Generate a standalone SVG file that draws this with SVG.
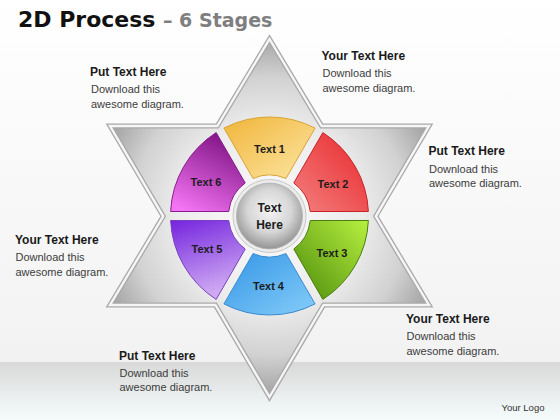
<svg xmlns="http://www.w3.org/2000/svg" width="560" height="420" viewBox="0 0 560 420">
  <style>
    .title { font-family: "DejaVu Sans", "Liberation Sans", sans-serif; font-weight: bold; }
    .head { font-family: "Liberation Sans", Arial, sans-serif; font-weight: bold; font-size: 12px; fill: #1a1a1a; }
    .body { font-family: "Liberation Sans", Arial, sans-serif; font-size: 11px; fill: #3c3c3c; }
    .seg { font-family: "Liberation Sans", Arial, sans-serif; font-weight: bold; font-size: 11px; fill: #1c1c1c; text-anchor: middle; }
    .ctr { font-family: "Liberation Sans", Arial, sans-serif; font-weight: bold; font-size: 12px; fill: #1c1c1c; text-anchor: middle; }
  </style>
  <defs>
    <linearGradient id="bgTop" x1="0" y1="0" x2="0" y2="1">
      <stop offset="0" stop-color="#ffffff"/>
      <stop offset="1" stop-color="#f2f2f2"/>
    </linearGradient>
    <linearGradient id="bgBand" x1="0" y1="0" x2="0" y2="1">
      <stop offset="0" stop-color="#d8d8d8"/>
      <stop offset="0.6" stop-color="#ebefef"/>
      <stop offset="1" stop-color="#f5fbfb"/>
    </linearGradient>
    <radialGradient id="starFill" gradientUnits="userSpaceOnUse" cx="269.5" cy="216" r="185">
      <stop offset="0" stop-color="#fbfbfb"/>
      <stop offset="0.5" stop-color="#ececec"/>
      <stop offset="0.75" stop-color="#d2d2d2"/>
      <stop offset="1" stop-color="#9c9c9c"/>
    </radialGradient>
    <radialGradient id="ball" cx="0.5" cy="0.42" r="0.6">
      <stop offset="0" stop-color="#f4f4f4"/>
      <stop offset="0.55" stop-color="#d6d6d6"/>
      <stop offset="1" stop-color="#8e8e8e"/>
    </radialGradient>
    <linearGradient id="g1" x1="0" y1="0" x2="1" y2="1">
      <stop offset="0" stop-color="#f0b53a"/>
      <stop offset="1" stop-color="#fde6a4"/>
    </linearGradient>
    <linearGradient id="g2" x1="1" y1="0" x2="0" y2="1">
      <stop offset="0" stop-color="#e8262a"/>
      <stop offset="1" stop-color="#f48080"/>
    </linearGradient>
    <linearGradient id="g3" x1="0" y1="1" x2="1" y2="0">
      <stop offset="0" stop-color="#4b8a0a"/>
      <stop offset="1" stop-color="#b8f040"/>
    </linearGradient>
    <linearGradient id="g4" x1="0" y1="0" x2="1" y2="1">
      <stop offset="0" stop-color="#3396e6"/>
      <stop offset="1" stop-color="#86cdf9"/>
    </linearGradient>
    <linearGradient id="g5" x1="0" y1="0" x2="0.3" y2="1">
      <stop offset="0" stop-color="#7424de"/>
      <stop offset="1" stop-color="#cfaaf2"/>
    </linearGradient>
    <linearGradient id="g6" x1="0.7" y1="0" x2="0.2" y2="1">
      <stop offset="0" stop-color="#7e1283"/>
      <stop offset="1" stop-color="#f475f4"/>
    </linearGradient>
  </defs>

  <!-- background -->
  <rect x="0" y="0" width="560" height="363" fill="url(#bgTop)"/>
  <rect x="0" y="362" width="560" height="58" fill="url(#bgBand)"/>

  <!-- title -->
  <text class="title" x="18" y="27" font-size="22" fill="#111111">2D Process</text>
  <text class="title" x="163" y="27" font-size="19" fill="#7f7f7f">– 6 Stages</text>

  <!-- star -->
  <g id="star">
    <path d="M269.5,39 L321.7,126 L429,126 L375.8,216.3 L429,305 L323.6,305 L269.5,397 L215.4,305 L110,305 L163.2,216.3 L110,126 L217.3,126 Z" fill="url(#starFill)" stroke="#a9a9a9" stroke-width="5" stroke-linejoin="miter"/>
    <path d="M269.5,39 L321.7,126 L429,126 L375.8,216.3 L429,305 L323.6,305 L269.5,397 L215.4,305 L110,305 L163.2,216.3 L110,126 L217.3,126 Z" fill="none" stroke="#f6f6f6" stroke-width="2.4" stroke-linejoin="miter"/>
  </g>

  <!-- wheel segments -->
  <g transform="translate(269.5,216)">
    <g id="stage1">
      <path d="M-45.56,-87.89 A99,99 0 0 1 45.56,-87.89 L16.48,-37.54 A41,41 0 0 0 -16.48,-37.54 Z" fill="url(#g1)" stroke="#d9a235" stroke-width="1"/>
      <text class="seg" x="0" y="-63.5">Text 1</text>
    </g>
    <g id="stage2">
      <path d="M53.33,-83.41 A99,99 0 0 1 98.89,-4.49 L40.75,-4.5 A41,41 0 0 0 24.27,-33.04 Z" fill="url(#g2)" stroke="#c62424" stroke-width="1"/>
      <text class="seg" x="63.5" y="-28">Text 2</text>
    </g>
    <g id="stage3">
      <path d="M98.89,4.49 A99,99 0 0 1 53.33,83.41 L24.27,33.04 A41,41 0 0 0 40.75,4.5 Z" fill="url(#g3)" stroke="#4a7d10" stroke-width="1"/>
      <text class="seg" x="62.5" y="40.5">Text 3</text>
    </g>
    <g id="stage4">
      <path d="M45.56,87.89 A99,99 0 0 1 -45.56,87.89 L-16.48,37.54 A41,41 0 0 0 16.48,37.54 Z" fill="url(#g4)" stroke="#3a8ad0" stroke-width="1"/>
      <text class="seg" x="-1" y="73.5" fill="#10224a">Text 4</text>
    </g>
    <g id="stage5">
      <path d="M-53.33,83.41 A99,99 0 0 1 -98.89,4.49 L-40.75,4.5 A41,41 0 0 0 -24.27,33.04 Z" fill="url(#g5)" stroke="#7a40c0" stroke-width="1"/>
      <text class="seg" x="-62.5" y="36.5">Text 5</text>
    </g>
    <g id="stage6">
      <path d="M-98.89,-4.49 A99,99 0 0 1 -53.33,-83.41 L-24.27,-33.04 A41,41 0 0 0 -40.75,-4.5 Z" fill="url(#g6)" stroke="#8a1a8e" stroke-width="1"/>
      <text class="seg" x="-63.5" y="-30">Text 6</text>
    </g>
    <g id="center">
      <circle cx="0" cy="0" r="36.5" fill="#ececec" stroke="#c8c8c8" stroke-width="1"/>
      <circle cx="0" cy="0" r="33" fill="url(#ball)" stroke="#b0b0b0" stroke-width="0.8"/>
      <text class="ctr" x="0" y="-4">Text</text>
      <text class="ctr" x="0" y="12.5">Here</text>
    </g>
  </g>

  <!-- text blocks -->
  <g id="block1">
    <text class="head" x="90" y="76">Put Text Here</text>
    <text class="body" x="91" y="93.3">Download this</text>
    <text class="body" x="91" y="108.3">awesome diagram.</text>
  </g>
  <g id="block2">
    <text class="head" x="321.5" y="59.5">Your Text Here</text>
    <text class="body" x="322.5" y="76.8">Download this</text>
    <text class="body" x="322.5" y="91.8">awesome diagram.</text>
  </g>
  <g id="block3">
    <text class="head" x="428.5" y="155">Put Text Here</text>
    <text class="body" x="429" y="172.5">Download this</text>
    <text class="body" x="429" y="187.3">awesome diagram.</text>
  </g>
  <g id="block4">
    <text class="head" x="15" y="244">Your Text Here</text>
    <text class="body" x="15.5" y="261">Download this</text>
    <text class="body" x="15.5" y="275.8">awesome diagram.</text>
  </g>
  <g id="block5">
    <text class="head" x="406" y="322.7">Your Text Here</text>
    <text class="body" x="406.5" y="340">Download this</text>
    <text class="body" x="406.5" y="355">awesome diagram.</text>
  </g>
  <g id="block6">
    <text class="head" x="119" y="359.5">Put Text Here</text>
    <text class="body" x="119.5" y="376.5">Download this</text>
    <text class="body" x="119.5" y="391.3">awesome diagram.</text>
  </g>

  <text x="501.5" y="410.5" font-family="Liberation Sans, Arial, sans-serif" font-size="9.5" fill="#333333">Your Logo</text>
</svg>
